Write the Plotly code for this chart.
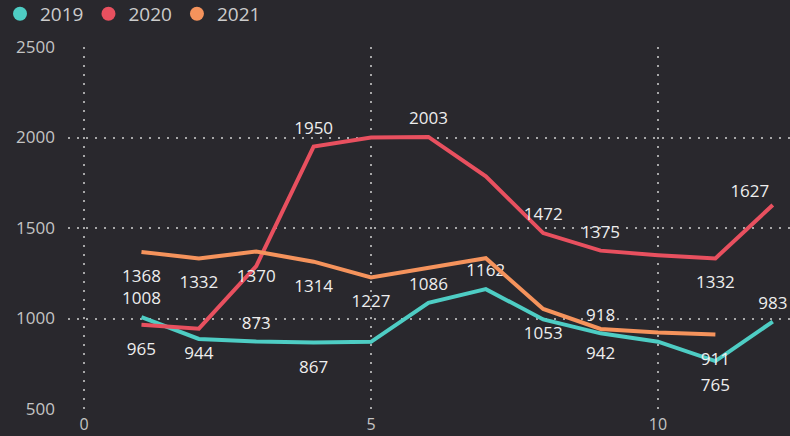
import plotly.graph_objects as go

# ---- data ----
months = [1, 2, 3, 4, 5, 6, 7, 8, 9, 10, 11, 12]
series_names = ["2019", "2020", "2021"]
values_2019 = [1008, 887, 873, 867, 871, 1086, 1162, 995, 918, 872, 765, 983]
values_2020 = [965, 944, 1290, 1950, 2000, 2003, 1785, 1472, 1375, 1350, 1332, 1627]
values_2021 = [1368, 1332, 1370, 1314, 1227, 1280, 1333, 1053, 942, 922, 911, None]
y_ticks = [500, 1000, 1500, 2000, 2500]
x_ticks = [0, 5, 10]

# which data labels are visible (others hidden as overlapping in the original)
show_2019 = [1, 0, 1, 1, 0, 1, 1, 0, 1, 0, 1, 1]
show_2020 = [1, 1, 0, 1, 0, 1, 0, 1, 1, 0, 1, 1]
show_2021 = [1, 1, 1, 1, 1, 0, 0, 1, 1, 0, 1, 0]

# label placement (style)
pos_2019 = ["top center", "top center", "top center", "bottom center", "top center", "top center",
            "top center", "top center", "top center", "top center", "bottom center", "top center"]
pos_2020 = ["bottom center", "bottom center", "top center", "top center", "top center", "top center",
            "top center", "top center", "top center", "top center", "bottom center", "top left"]
pos_2021 = ["bottom center"] * 12

colors = ["#4ecdc4", "#e8505f", "#f5935c"]
BG = "#29282d"
FONT = "Open Sans, Noto Sans, sans-serif"

fig = go.Figure()
for name, vals, show, pos, col in zip(series_names,
                                      [values_2019, values_2020, values_2021],
                                      [show_2019, show_2020, show_2021],
                                      [pos_2019, pos_2020, pos_2021], colors):
    text = [str(v) if (s and v is not None) else "" for v, s in zip(vals, show)]
    sizes = [26 if p.startswith("bottom") else (4 if p.endswith("left") else 12) for p in pos]
    fig.add_trace(go.Scatter(
        x=months, y=vals, mode="lines+markers+text", name=name,
        line=dict(color=col, width=4),
        marker=dict(size=sizes, opacity=0, color=col),
        text=text, textposition=pos,
        textfont=dict(family=FONT, size=17, color="#eeeeee"),
        showlegend=False, hoverinfo="skip", cliponaxis=False,
    ))
    # legend entry with circle symbol
    fig.add_trace(go.Scatter(
        x=[None], y=[None], mode="markers", name=name,
        marker=dict(color=col, size=14, symbol="circle"),
        showlegend=True,
    ))

grid = dict(showgrid=True, gridcolor="rgba(210,210,210,0.75)", gridwidth=1.5,
            griddash="2px,7px", zeroline=False, showline=False)

fig.update_layout(
    width=790, height=436,
    paper_bgcolor=BG, plot_bgcolor=BG,
    margin=dict(l=68, r=0, t=47, b=27),
    font=dict(family=FONT, color="#c4c4c4"),
    legend=dict(orientation="h", x=0, y=0.968, xref="container", yref="container",
                xanchor="left", yanchor="middle",
                font=dict(family=FONT, size=19, color="#cccccc"),
                bgcolor="rgba(0,0,0,0)", itemwidth=30, tracegroupgap=0),
    xaxis=dict(range=[-0.28, 12.3], tickvals=x_ticks,
               tickfont=dict(size=16, color="#c4c4c4"), ticklabelstandoff=4, **grid),
    yaxis=dict(range=[500, 2500], tickvals=y_ticks,
               tickfont=dict(size=17, color="#c4c4c4"), ticklabelstandoff=12, **grid),
)

fig.write_html("out.html", config={"displayModeBar": False},
               post_script="document.body.style.margin='0';document.body.style.overflow='hidden';")
